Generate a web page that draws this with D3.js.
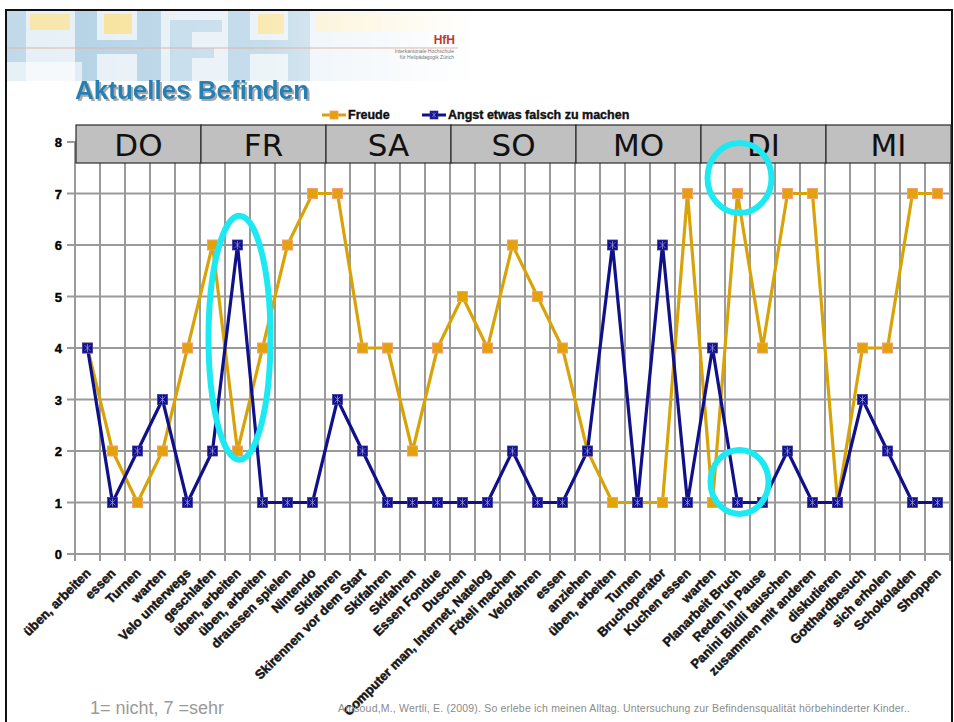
<!DOCTYPE html>
<head>
    <meta charset="utf-8">
    <style>
        body { margin: 0; background: #fff; }
        svg { display: block; font-family: "Liberation Sans", Arial, sans-serif; }
    </style>
    <script src="https://d3js.org/d3.v7.min.js"></script>
</head>
<body>
    <div id="block"></div>
    <script>

        // activities along the x axis, one per measurement
        var activities = [
            "üben, arbeiten", "essen", "Turnen", "warten", "Velo unterwegs",
            "geschlafen", "üben, arbeiten", "üben, arbeiten", "draussen spielen", "Nintendo",
            "Skifahren", "Skirennen vor dem Start", "Skifahren", "Skifahren", "Essen Fondue",
            "Duschen", "Computer man, Internet, Natelog", "Föteli machen", "Velofahren", "essen",
            "anziehen", "üben, arbeiten", "Turnen", "Bruchoperator", "Kuchen essen",
            "warten", "Planarbeit Bruch", "Reden in Pause", "Panini Bildli tauschen", "zusammen mit anderen",
            "diskutieren", "Gotthardbesuch", "sich erholen", "Schokoladen", "Shoppen"
        ];

        var freude = [4, 2, 1, 2, 4, 6, 2, 4, 6, 7,
                      7, 4, 4, 2, 4, 5, 4, 6, 5, 4,
                      2, 1, 1, 1, 7, 1, 7, 4, 7, 7,
                      1, 4, 4, 7, 7];

        var angst  = [4, 1, 2, 3, 1, 2, 6, 1, 1, 1,
                      3, 2, 1, 1, 1, 1, 1, 2, 1, 1,
                      2, 6, 1, 6, 1, 4, 1, 1, 2, 1,
                      1, 3, 2, 1, 1];

        // each weekday covers five activities
        var days = ["DO", "FR", "SA", "SO", "MO", "DI", "MI"];
        var perDay = 5;

        var yTicks = [0, 1, 2, 3, 4, 5, 6, 7, 8];

        var seriesNames = ["Freude", "Angst etwas falsch zu machen"];

        // highlighted spots: [activity index, value centre, x radius, y radius]
        var highlights = [
            { idx: 6, val: 4.2, rx: 31, ry: 122 },
            { idx: 26, val: 7.3, rx: 32, ry: 35 },
            { idx: 26, val: 1.4, rx: 29, ry: 32 }
        ];

        var w = 954,
            h = 722;

        var orange = "#d8a308",
            orangeMark = "#e3a20c",
            orangeEdge = "#f4a070",
            navy = "#10108a",
            grid = "#9a9a9a";

        var svg = d3.select("#block")
                    .append("svg")
                    .attr("width", w)
                    .attr("height", h);

        // ---- header banner (faded logo art) ----
        var defs = svg.append("defs");
        var fade = defs.append("linearGradient")
            .attr("id", "fade")
            .attr("x1", "0").attr("x2", "1").attr("y1", "0").attr("y2", "0");
        fade.append("stop").attr("offset", "0").attr("stop-color", "#fff").attr("stop-opacity", 0.1);
        fade.append("stop").attr("offset", "0.55").attr("stop-color", "#fff").attr("stop-opacity", 0.35);
        fade.append("stop").attr("offset", "1").attr("stop-color", "#fff").attr("stop-opacity", 1);

        var shadow = defs.append("filter").attr("id", "shadow");
        shadow.append("feDropShadow")
              .attr("dx", 2).attr("dy", 2).attr("stdDeviation", 0.6)
              .attr("flood-color", "#a0a0a0").attr("flood-opacity", 0.9);

        var banner = svg.append("g");
        banner.append("rect").attr("x", 6).attr("y", 11).attr("width", 470).attr("height", 70).attr("fill", "#e3eef5");
        var blocks = [
            [6, 11, 20, 70, "#b9d6e8"], [30, 14, 40, 16, "#f6e3a0"], [75, 11, 22, 70, "#a8cbe2"],
            [97, 40, 40, 14, "#a8cbe2"], [137, 11, 24, 70, "#a8cbe2"], [104, 14, 28, 20, "#f6dd8a"],
            [170, 20, 22, 61, "#b4d3e6"], [192, 20, 30, 12, "#b4d3e6"], [192, 48, 22, 10, "#b4d3e6"],
            [228, 11, 22, 70, "#a8cbe2"], [250, 40, 38, 14, "#a8cbe2"], [288, 11, 22, 70, "#a8cbe2"],
            [258, 14, 26, 20, "#f6dd8a"], [315, 14, 150, 18, "#f9eab8"]
        ];
        banner.selectAll("rect.blk")
            .data(blocks)
            .enter()
            .append("rect")
            .attr("class", "blk")
            .attr("x", function(d) { return d[0]; })
            .attr("y", function(d) { return d[1]; })
            .attr("width", function(d) { return d[2]; })
            .attr("height", function(d) { return d[3]; })
            .attr("fill", function(d) { return d[4]; });
        banner.append("rect").attr("x", 6).attr("y", 11).attr("width", 470).attr("height", 70).attr("fill", "url(#fade)");
        banner.append("rect").attr("x", 6).attr("y", 62).attr("width", 76).attr("height", 20).attr("fill", "#fff").attr("opacity", 0.6);
        banner.append("line")
            .attr("x1", 6).attr("x2", 458).attr("y1", 48).attr("y2", 48)
            .attr("stroke", "#e2b3a6").attr("stroke-width", 1);

        // HfH logo
        svg.append("text")
            .attr("x", 455).attr("y", 44)
            .attr("text-anchor", "end")
            .style("font-size", "12px").style("font-weight", "bold")
            .attr("fill", "#c0392b")
            .text("HfH");
        svg.append("text")
            .attr("x", 454).attr("y", 53)
            .attr("text-anchor", "end")
            .style("font-size", "5px").attr("fill", "#777")
            .text("Interkantonale Hochschule");
        svg.append("text")
            .attr("x", 454).attr("y", 59)
            .attr("text-anchor", "end")
            .style("font-size", "5px").attr("fill", "#777")
            .text("für Heilpädagogik Zürich");

        // slide border
        svg.append("path")
            .attr("d", "M6,722V10H952V722")
            .attr("fill", "none")
            .attr("stroke", "#111")
            .attr("stroke-width", 2);

        // title
        svg.append("text")
            .attr("x", 75).attr("y", 99)
            .style("font-size", "26px").style("font-weight", "bold")
            .attr("fill", "#2480b4")
            .attr("filter", "url(#shadow)")
            .text("Aktuelles Befinden");

        // ---- chart ----
        var x = d3.scaleBand()
                  .domain(d3.range(activities.length))
                  .range([75, 950]);

        var y = d3.scaleLinear()
                  .domain([0, 8])
                  .range([554, 142]);

        var cx = function(i) { return x(i) + x.bandwidth() / 2; };

        var chart = svg.append("g");

        // horizontal gridlines
        chart.selectAll("line.hgrid")
             .data(yTicks)
             .enter()
             .append("line")
             .attr("class", "hgrid")
             .attr("x1", 67).attr("x2", 950)
             .attr("y1", function(d) { return y(d); })
             .attr("y2", function(d) { return y(d); })
             .attr("stroke", grid)
             .attr("stroke-width", 2);

        // vertical gridlines at category borders
        chart.selectAll("line.vgrid")
             .data(d3.range(activities.length + 1))
             .enter()
             .append("line")
             .attr("class", "vgrid")
             .attr("x1", function(i) { return i < activities.length ? x(i) : x.range()[1]; })
             .attr("x2", function(i) { return i < activities.length ? x(i) : x.range()[1]; })
             .attr("y1", y(8))
             .attr("y2", y(0) + 7)
             .attr("stroke", grid)
             .attr("stroke-width", 2);

        // y tick labels
        chart.selectAll("text.ytick")
             .data(yTicks)
             .enter()
             .append("text")
             .attr("class", "ytick")
             .attr("x", 62)
             .attr("y", function(d) { return y(d) + 5; })
             .attr("text-anchor", "end")
             .style("font-size", "13px").style("font-weight", "bold")
             .attr("fill", "#000").attr("stroke", "#000").attr("stroke-width", 0.4)
             .text(function(d) { return d; });

        // citation (sits under the long labels)
        svg.append("text")
            .attr("x", 338).attr("y", 712)
            .attr("textLength", 572)
            .style("font-size", "10.5px")
            .attr("fill", "#8a8a8a")
            .text("Amsoud,M., Wertli, E. (2009). So erlebe ich meinen Alltag. Untersuchung zur Befindensqualität hörbehinderter Kinder..");

        svg.append("text")
            .attr("x", 90).attr("y", 714)
            .style("font-size", "18px")
            .attr("fill", "#9a9a9a")
            .text("1= nicht, 7 =sehr");

        // x labels
        chart.selectAll("text.xlab")
             .data(activities)
             .enter()
             .append("text")
             .attr("class", "xlab")
             .attr("text-anchor", "end")
             .attr("transform", function(d, i) {
                 return "translate(" + (cx(i) + 4) + "," + 574 + ") rotate(-45)";
             })
             .style("font-size", "13px").style("font-weight", "bold")
             .attr("fill", "#111").attr("stroke", "#222").attr("stroke-width", 0.5)
             .text(function(d) { return d; });

        // lines
        var line = d3.line()
                     .x(function(d, i) { return cx(i); })
                     .y(function(d) { return y(d); });

        chart.append("path")
             .datum(freude)
             .attr("d", line)
             .attr("fill", "none")
             .attr("stroke", orange)
             .attr("stroke-width", 3.2);

        chart.append("path")
             .datum(angst)
             .attr("d", line)
             .attr("fill", "none")
             .attr("stroke", navy)
             .attr("stroke-width", 3.2);

        function drawOrangeMark(sel) {
            sel.append("rect")
               .attr("x", -5).attr("y", -5)
               .attr("width", 10).attr("height", 10)
               .attr("fill", orangeMark)
               .attr("stroke", orangeEdge)
               .attr("stroke-width", 1);
        }

        function drawNavyMark(sel) {
            sel.append("rect")
               .attr("x", -5).attr("y", -5)
               .attr("width", 10).attr("height", 10)
               .attr("fill", navy)
               .attr("stroke", "#3a3aa8")
               .attr("stroke-width", 0.8);
            sel.append("path")
               .attr("d", "M-3,-3L3,3M-3,3L3,-3M0,-4V4")
               .attr("stroke", "#8e8ed0")
               .attr("stroke-width", 0.8);
        }

        chart.selectAll("g.fmark")
             .data(freude)
             .enter()
             .append("g")
             .attr("class", "fmark")
             .attr("transform", function(d, i) { return "translate(" + cx(i) + "," + y(d) + ")"; })
             .call(drawOrangeMark);

        chart.selectAll("g.amark")
             .data(angst)
             .enter()
             .append("g")
             .attr("class", "amark")
             .attr("transform", function(d, i) { return "translate(" + cx(i) + "," + y(d) + ")"; })
             .call(drawNavyMark);

        // ---- weekday boxes ----
        var dayG = svg.selectAll("g.day")
                      .data(days)
                      .enter()
                      .append("g")
                      .attr("class", "day");

        dayG.append("rect")
            .attr("x", function(d, i) { return x(i * perDay) + 1; })
            .attr("y", 125)
            .attr("width", x.bandwidth() * perDay)
            .attr("height", 38)
            .attr("fill", "#c0c0c0")
            .attr("stroke", "#2a2a2a")
            .attr("stroke-width", 1.2);

        dayG.append("text")
            .attr("x", function(d, i) { return x(i * perDay) + 1 + x.bandwidth() * perDay / 2; })
            .attr("y", 156)
            .attr("text-anchor", "middle")
            .style("font-size", "31px")
            .style("font-family", "'DejaVu Sans', sans-serif")
            .attr("fill", "#111")
            .text(function(d) { return d; });

        // ---- legend ----
        var legend = svg.append("g")
                        .selectAll("g")
                        .data(seriesNames)
                        .enter()
                        .append("g")
                        .attr("transform", function(d, i) {
                            return "translate(" + (322 + i * 100) + ",115)";
                        });

        legend.append("line")
              .attr("x1", 0).attr("x2", 24)
              .attr("stroke", function(d, i) { return i === 0 ? orange : navy; })
              .attr("stroke-width", 3);

        legend.append("g")
              .attr("transform", "translate(12,0) scale(0.8)")
              .each(function(d, i) {
                  if (i === 0) d3.select(this).call(drawOrangeMark);
                  else d3.select(this).call(drawNavyMark);
              });

        legend.append("text")
              .attr("x", 26)
              .attr("y", 4)
              .style("font-size", "12.5px").style("font-weight", "bold")
              .attr("fill", "#111").attr("stroke", "#111").attr("stroke-width", 0.4)
              .text(function(d) { return d; });

        // ---- highlight ellipses ----
        svg.selectAll("ellipse.hl")
           .data(highlights)
           .enter()
           .append("ellipse")
           .attr("class", "hl")
           .attr("cx", function(d) { return cx(d.idx) + 2; })
           .attr("cy", function(d) { return y(d.val); })
           .attr("rx", function(d) { return d.rx; })
           .attr("ry", function(d) { return d.ry; })
           .attr("fill", "none")
           .attr("stroke", "#1de9f2")
           .attr("stroke-width", 6);

    </script>
</body>
